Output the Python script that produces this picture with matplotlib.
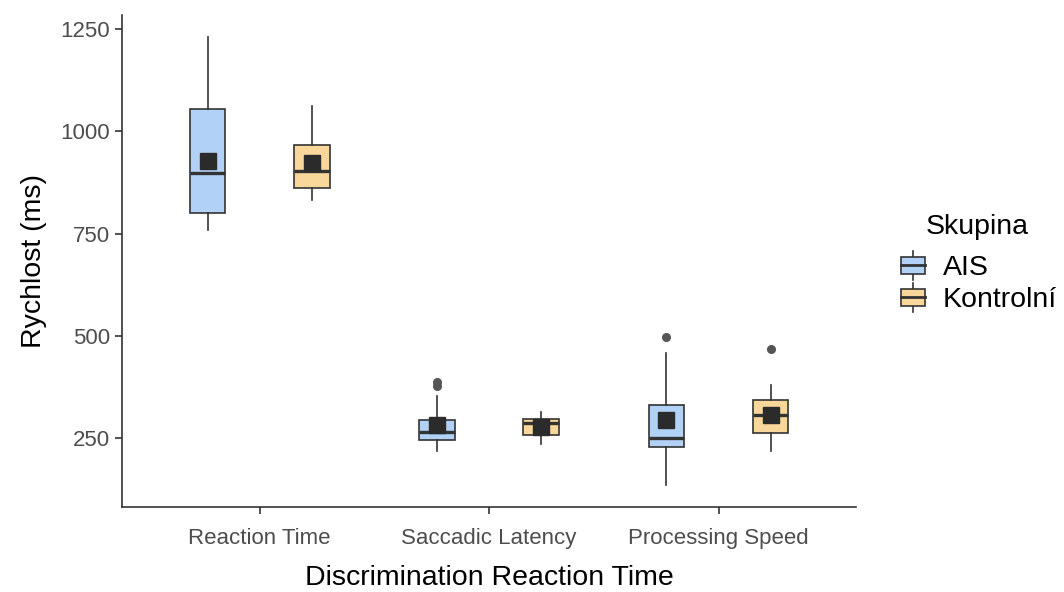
import matplotlib.pyplot as plt
from matplotlib.patches import Rectangle
from matplotlib.lines import Line2D
from matplotlib.legend_handler import HandlerBase

plt.rcParams['font.family'] = ['Liberation Sans', 'DejaVu Sans']

categories = ['Reaction Time', 'Saccadic Latency', 'Processing Speed']
groups = ['AIS', 'Kontrolní']
colors = {'AIS': '#B2D1F7', 'Kontrolní': '#F9D699'}

# box statistics (ms)
ais_whislo = [760, 219, 136]
ais_q1 = [800, 244, 228]
ais_med = [899, 264, 250]
ais_q3 = [1056, 294, 331]
ais_whishi = [1231, 353, 457]
ais_mean = [928, 282, 293]
ais_fliers = [[], [378, 388], [498]]

kon_whislo = [832, 236, 219]
kon_q1 = [861, 257, 262]
kon_med = [904, 286, 307]
kon_q3 = [966, 296, 343]
kon_whishi = [1063, 313, 380]
kon_mean = [923, 277, 306]
kon_fliers = [[], [], [467]]

data = {
    'AIS': (ais_whislo, ais_q1, ais_med, ais_q3, ais_whishi, ais_mean, ais_fliers),
    'Kontrolní': (kon_whislo, kon_q1, kon_med, kon_q3, kon_whishi, kon_mean, kon_fliers),
}

edge = '#333333'
offset = 0.227
width = 0.155

fig = plt.figure(figsize=(10.64, 5.92), dpi=100)
ax = fig.add_axes([0.1147, 0.1436, 0.69, 0.831])

for gi, g in enumerate(groups):
    wlo, q1, med, q3, whi, mean, fl = data[g]
    stats = []
    for i in range(len(categories)):
        stats.append({'whislo': wlo[i], 'q1': q1[i], 'med': med[i], 'q3': q3[i],
                      'whishi': whi[i], 'fliers': fl[i]})
    pos = [i + 1 + (gi * 2 - 1) * offset for i in range(len(categories))]
    ax.bxp(stats, positions=pos, widths=width, patch_artist=True, showcaps=False,
           boxprops=dict(facecolor=colors[g], edgecolor=edge, linewidth=1.2),
           whiskerprops=dict(color=edge, linewidth=1.2),
           medianprops=dict(color=edge, linewidth=2.4),
           flierprops=dict(marker='o', markerfacecolor='#555555', markeredgecolor='#555555',
                           markersize=5.5),
           manage_ticks=False, zorder=2)
    ax.plot(pos, mean, 's', color='#2b2b2b', markersize=11, zorder=4)

ax.set_xlim(0.4, 3.6)
ax.set_ylim(81, 1285)
ax.set_xticks([1, 2, 3])
ax.set_xticklabels(categories)
ax.set_yticks([250, 500, 750, 1000, 1250])

for s in ['top', 'right']:
    ax.spines[s].set_visible(False)
for s in ['left', 'bottom']:
    ax.spines[s].set_color(edge)
    ax.spines[s].set_linewidth(1.2)
ax.tick_params(axis='both', colors=edge, labelcolor='#4D4D4D', labelsize=16, length=5, width=1.2)
ax.tick_params(axis='x', pad=10)

ax.set_xlabel('Discrimination Reaction Time', fontsize=20.5, labelpad=12)
ax.set_ylabel('Rychlost (ms)', fontsize=20.5, labelpad=10)


class BoxHandler(HandlerBase):
    def create_artists(self, legend, orig_handle, xdescent, ydescent, width, height, fontsize, trans):
        w = width * 0.75
        x0 = xdescent + (width - w) / 2
        cx = x0 + w / 2
        fc = orig_handle.get_facecolor()
        rect = Rectangle((x0, -ydescent + height * 0.15), w, height * 0.7,
                         facecolor=fc, edgecolor=edge, linewidth=1.2, transform=trans)
        mid = Line2D([x0, x0 + w], [-ydescent + height / 2] * 2, color=edge, linewidth=2, transform=trans)
        top = Line2D([cx, cx], [-ydescent + height * 0.85, -ydescent + height * 1.1], color=edge,
                     linewidth=1.2, transform=trans)
        bot = Line2D([cx, cx], [-ydescent - height * 0.1, -ydescent + height * 0.15], color=edge,
                     linewidth=1.2, transform=trans)
        return [top, bot, rect, mid]


handles = [Rectangle((0, 0), 1, 1, facecolor=colors[g]) for g in groups]
leg = fig.legend(handles, groups, title='Skupina', loc='center left',
                 bbox_to_anchor=(0.83, 0.555), frameon=False, fontsize=20.5, title_fontsize=20.5,
                 handler_map={Rectangle: BoxHandler()}, handlelength=1.1, handleheight=0.9,
                 handletextpad=0.5, labelspacing=0.15, borderpad=0)
leg._legend_box.sep = 10

fig.savefig('out.png', dpi=100)
